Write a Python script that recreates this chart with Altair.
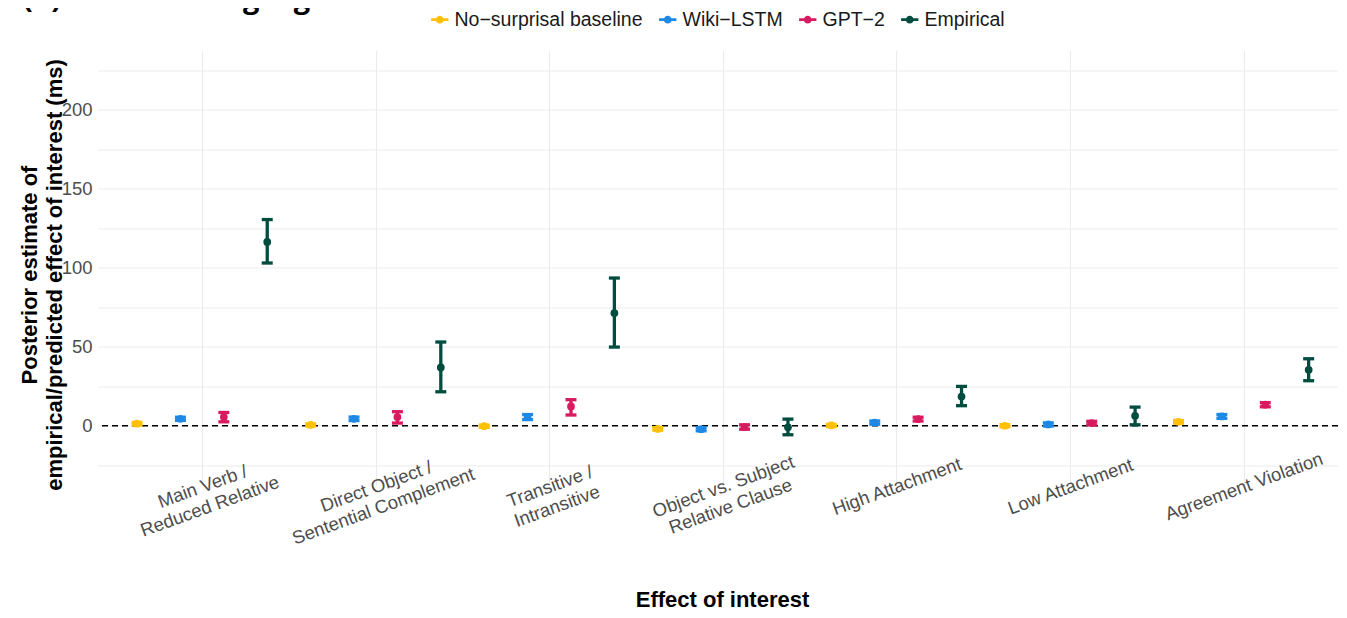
import json
import altair as alt
import pandas as pd

# ---------------- data ----------------
effects = [
    ["Main Verb /", "Reduced Relative"],
    ["Direct Object /", "Sentential Complement"],
    ["Transitive /", "Intransitive"],
    ["Object vs. Subject", "Relative Clause"],
    ["High Attachment"],
    ["Low Attachment"],
    ["Agreement Violation"],
]
models = ["No\u2212surprisal baseline", "Wiki\u2212LSTM", "GPT\u22122", "Empirical"]
colors = ["#FFC107", "#1E88E5", "#D81B60", "#004D40"]

baseline_mean = [1.3, 0.5, -0.3, -2.0, 0.2, 0.0, 2.5]
baseline_lo = [0.5, -0.2, -1.0, -2.8, -0.5, -0.7, 1.7]
baseline_hi = [2.1, 1.2, 0.4, -1.2, 0.9, 0.7, 3.3]

lstm_mean = [4.4, 4.4, 5.5, -2.2, 2.0, 0.8, 5.9]
lstm_lo = [3.4, 3.3, 3.9, -3.2, 1.0, -0.2, 4.7]
lstm_hi = [5.4, 5.5, 7.1, -1.2, 3.0, 1.8, 7.1]

gpt2_mean = [5.5, 5.5, 12.2, -0.8, 4.2, 1.7, 13.3]
gpt2_lo = [2.5, 1.7, 6.8, -2.2, 3.0, 0.6, 12.0]
gpt2_hi = [8.4, 8.9, 16.5, 0.6, 5.4, 2.8, 14.6]

emp_mean = [116.3, 36.9, 71.3, -1.0, 18.5, 6.3, 35.4]
emp_lo = [103.0, 21.5, 49.8, -5.7, 12.7, 0.6, 28.5]
emp_hi = [130.5, 53.0, 93.5, 4.2, 24.9, 11.8, 42.4]

y_grid = [-25, 0, 25, 50, 75, 100, 125, 150, 175, 200, 225]
y_labels = [0, 50, 100, 150, 200]
y_domain = [-37.5, 237.5]
x_domain = [0.4, 7.544]

title_text = "(b) Results using log RTs"
x_title = "Effect of interest"
y_title = ["Posterior estimate of", "empirical/predicted effect of interest (ms)"]

# ---------------- table ----------------
series = [
    (baseline_mean, baseline_lo, baseline_hi),
    (lstm_mean, lstm_lo, lstm_hi),
    (gpt2_mean, gpt2_lo, gpt2_hi),
    (emp_mean, emp_lo, emp_hi),
]
rows = []
for mi, (m, lo, hi) in enumerate(series):
    for ei in range(len(effects)):
        rows.append({"eff_idx": ei + 1, "model_idx": mi, "model": models[mi],
                     "mean": m[ei], "lo": lo[ei], "hi": hi[ei]})
df = pd.DataFrame(rows)

label_expr = json.dumps(effects) + "[datum.value - 1]"
ylab_expr = "indexof(" + json.dumps(y_labels) + ", datum.value) >= 0 ? datum.label : ''"

FONT = "Liberation Sans"

x_axis = alt.Axis(
    values=list(range(1, len(effects) + 1)),
    labelExpr=label_expr,
    labelAngle=340, labelAlign="center", labelBaseline="middle",
    labelPadding=1, labelFontSize=18.5, labelColor="#4D4D4D", labelFont=FONT,
    labelLineHeight=21, labelOverlap=False, labelFlush=False, labelBound=False,
    labelLimit=0,
    ticks=False, tickSize=0, domain=False,
    grid=True, gridColor="#EBEBEB", gridWidth=1.1,
    title=x_title, titleFont=FONT, titleFontSize=22, titleFontWeight="bold",
    titleColor="#000000", titleX=624, titleY=121, titleBaseline="alphabetic",
    titleAlign="center",
)
y_axis = alt.Axis(
    values=y_grid, labelExpr=ylab_expr,
    labelPadding=6, labelFontSize=18.5, labelColor="#4D4D4D", labelFont=FONT,
    ticks=False, tickSize=0, domain=False,
    grid=True, gridColor="#EBEBEB", gridWidth=1.1,
    title=y_title, titleFont=FONT, titleFontSize=22, titleFontWeight="bold",
    titleColor="#000000", titleAngle=270, titleAlign="center",
    titleBaseline="alphabetic", titleX=-62, titleY=224, titleLineHeight=25,
)

xs = alt.Scale(domain=x_domain, nice=False, zero=False)
ys = alt.Scale(domain=y_domain, nice=False, zero=False)
cs = alt.Scale(domain=models, range=colors)

legend_path = ("M-1,-0.16L1,-0.16L1,0.16L-1,0.16Z "
               "M0.45,0A0.45,0.45 0 1 1 -0.45,0A0.45,0.45 0 1 1 0.45,0Z")

legend = alt.Legend(
    title=None, orient="none", direction="horizontal",
    legendX=332, legendY=-41,
    symbolType=legend_path, symbolSize=300, symbolStrokeWidth=0,
    symbolOpacity=1,
    labelFont=FONT, labelFontSize=19.5, labelColor="#1A1A1A",
    labelOffset=5, columnPadding=15, labelLimit=0,
)

def C():
    return alt.Color("model:N", scale=cs, legend=legend)

base = alt.Chart(df).transform_calculate(
    xpos="datum.eff_idx + (datum.model_idx - 1.5) * 0.25"
)

def X():
    return alt.X("xpos:Q", scale=xs, axis=x_axis)

def Y(field):
    return alt.Y(field + ":Q", scale=ys, axis=y_axis)

zero = alt.Chart(pd.DataFrame({"z": [0]})).mark_rule(
    color="#000000", strokeWidth=1.5, strokeDash=[6, 4]
).encode(y=alt.Y("z:Q", scale=ys, axis=y_axis))

rules = base.mark_rule(strokeWidth=3.3).encode(
    x=X(), y=Y("lo"), y2="hi:Q", color=C(),
)
cap_lo = base.mark_tick(orient="horizontal", size=11, thickness=3.3, opacity=1).encode(
    x=X(), y=Y("lo"), color=C(),
)
cap_hi = base.mark_tick(orient="horizontal", size=11, thickness=3.3, opacity=1).encode(
    x=X(), y=Y("hi"), color=C(),
)
points = base.mark_circle(size=60, opacity=1).encode(
    x=X(), y=Y("mean"), color=C(),
)

title = alt.Chart(pd.DataFrame({"t": [title_text]})).mark_text(
    font="Open Sans", fontSize=29, fontWeight="bold", align="left",
    baseline="alphabetic", color="#000000",
).encode(text="t:N", x=alt.value(-75), y=alt.value(-42.5))

chart = alt.layer(zero, rules, cap_lo, cap_hi, points, title).properties(
    width=1240, height=434.5,
    autosize=alt.AutoSizeParams(type="none"),
    padding={"left": 90, "top": 42.5, "right": 0, "bottom": 124},
    background="white",
).configure_view(stroke=None)

chart.save("out.html", embed_options={"renderer": "svg", "actions": False})
